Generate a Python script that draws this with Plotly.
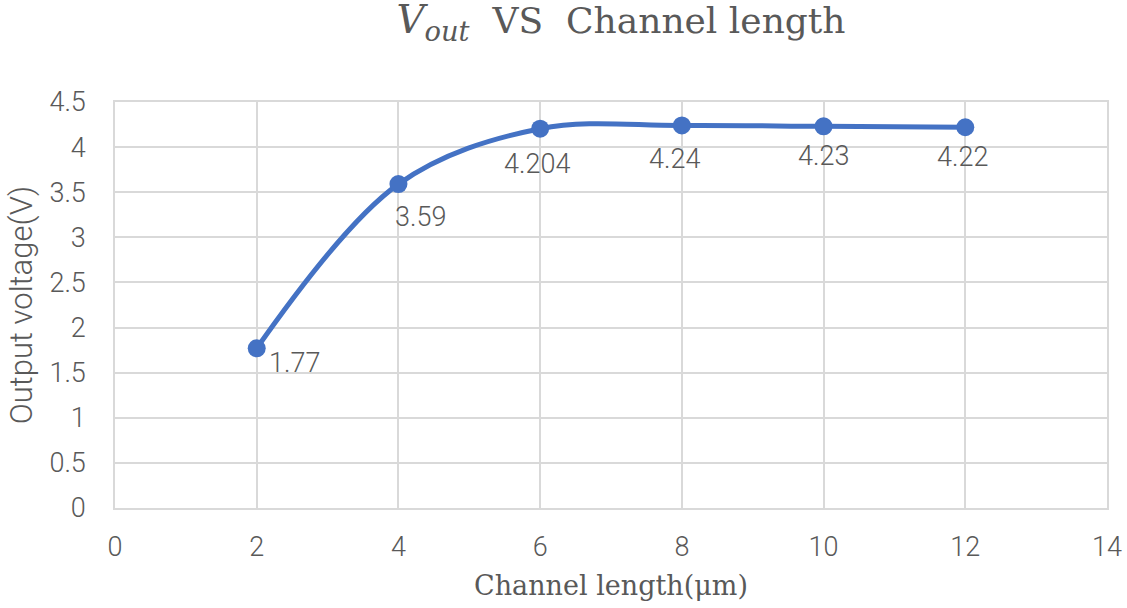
import plotly.graph_objects as go

# Output voltage measured against channel length
channel_length_um = [2, 4, 6, 8, 10, 12]
output_voltage_v = [1.77, 3.59, 4.204, 4.24, 4.23, 4.22]
value_labels = ["1.77", "3.59", "4.204", "4.24", "4.23", "4.22"]

x_ticks = [0, 2, 4, 6, 8, 10, 12, 14]
y_ticks = [0, 0.5, 1, 1.5, 2, 2.5, 3, 3.5, 4, 4.5]

# pixel nudges for each value label (x right, y down)
label_dx = [38, 22, -3, -7, 0, -3]
label_dy = [15, 33, 35, 34, 30, 30]

LINE_BLUE = "#4472C4"
TEXT_GREY = "#595959"
GRID_GREY = "#D9D9D9"

fig = go.Figure()
fig.add_trace(go.Scatter(
    x=channel_length_um,
    y=output_voltage_v,
    mode="lines+markers",
    line=dict(color=LINE_BLUE, width=5, shape="spline", smoothing=1),
    marker=dict(color=LINE_BLUE, size=18),
    hoverinfo="x+y",
    showlegend=False,
))

for xv, yv, txt, dx, dy in zip(channel_length_um, output_voltage_v, value_labels, label_dx, label_dy):
    fig.add_annotation(
        x=xv, y=yv, text=txt, showarrow=False,
        xshift=dx, yshift=-dy,
        font=dict(family="Roboto", size=27, color=TEXT_GREY, weight=300),
    )

title_text = (
    '<span style="font-size:39px"><i>V</i><sub><i>out</i></sub></span>'
    '&nbsp; VS&nbsp; Channel length'
)

fig.update_layout(
    width=1127, height=608,
    margin=dict(l=115, r=20, t=102, b=100, autoexpand=False),
    paper_bgcolor="white",
    plot_bgcolor="white",
    title=dict(
        text=title_text,
        x=0.551, xanchor="center", y=0.966, yanchor="middle",
        font=dict(family="DejaVu Serif", size=36, color=TEXT_GREY),
    ),
    xaxis=dict(
        range=[0, 14], tickvals=x_ticks, automargin=False,
        showgrid=True, gridcolor=GRID_GREY, gridwidth=1.5,
        zeroline=False, showline=True, linecolor=GRID_GREY, linewidth=1.5, mirror=True,
        ticks="", ticklabelstandoff=14,
        tickfont=dict(family="Roboto", size=27, color=TEXT_GREY, weight=300),
        title=dict(text="Channel length(μm)", standoff=14,
                   font=dict(family="DejaVu Serif", size=27, color=TEXT_GREY)),
    ),
    yaxis=dict(
        range=[0, 4.5], tickvals=y_ticks, automargin=False,
        showgrid=True, gridcolor=GRID_GREY, gridwidth=1.5,
        zeroline=False, showline=True, linecolor=GRID_GREY, linewidth=1.5, mirror=True,
        ticks="", ticklabelstandoff=22,
        tickfont=dict(family="Roboto", size=27, color=TEXT_GREY, weight=300),
        title=dict(text="Output voltage(V)", standoff=8,
                   font=dict(family="Roboto", size=31, color=TEXT_GREY, weight=300)),
    ),
)

fig.write_html("out.html")
